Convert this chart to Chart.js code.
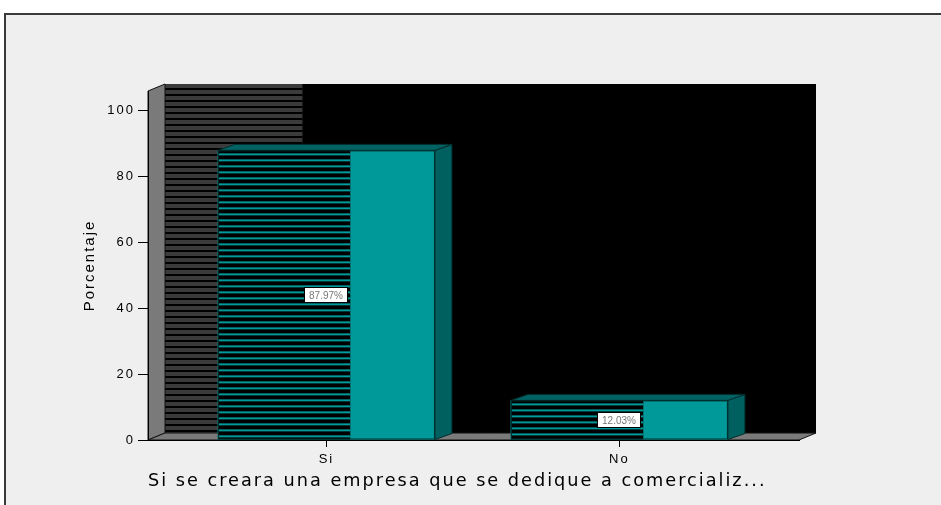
<!DOCTYPE html>
<html>
<head>
<meta charset="utf-8">
<script src="https://cdn.jsdelivr.net/npm/chart.js@4.4.1/dist/chart.umd.min.js"></script>
<style>
  html, body { margin: 0; padding: 0; background: #fff; overflow: hidden; }
  body { width: 941px; height: 505px; position: relative; }
  #frame {
    position: absolute; left: 4px; top: 13px; width: 1000px; height: 600px;
    background: #efefef; border: 2px solid #3a3a3a;
  }
  #chart { position: absolute; left: 0; top: 0; }
</style>
</head>
<body>
<div id="frame"></div>
<canvas id="chart" width="941" height="505"></canvas>
<script>
// --- DATA ---
const categories = ['Si', 'No'];
const percentages = [87.97, 12.03];
const yTicks = [0, 20, 40, 60, 80, 100];
const yTitle = 'Porcentaje';
const xTitle = 'Si se creara una empresa que se dedique a comercializ...';

// --- 3D LOOK ---
const DX = 17;
const DY = -7;
const TEAL = '#009999';

function stripes(ctx, x, y, w, h, base, line, offset, thick) {
  ctx.fillStyle = base;
  ctx.fillRect(x, y, w, h);
  ctx.fillStyle = line;
  for (let yy = y + offset; yy < y + h; yy += 6) {
    ctx.fillRect(x, yy, w, Math.min(thick, y + h - yy));
  }
}

function poly(ctx, pts, fill, stroke) {
  ctx.beginPath();
  ctx.moveTo(pts[0][0], pts[0][1]);
  pts.slice(1).forEach((p) => ctx.lineTo(p[0], p[1]));
  ctx.closePath();
  ctx.fillStyle = fill;
  ctx.fill();
  if (stroke) {
    ctx.strokeStyle = stroke;
    ctx.lineWidth = 1;
    ctx.stroke();
  }
}

const walls = {
  id: 'walls',
  beforeDraw(chart) {
    const { ctx, chartArea: a } = chart;
    const bars = chart.getDatasetMeta(0).data;
    ctx.save();
    // back wall
    ctx.fillStyle = '#000';
    ctx.fillRect(a.left + DX, a.top + DY, a.right - a.left, a.bottom - a.top);
    // striped shadow on the back wall
    const shadowEnd = bars.length ? bars[0].x - 24 : a.left + 150;
    stripes(ctx, a.left + DX, a.top + DY, shadowEnd - a.left - DX, a.bottom - a.top,
      '#3b3b3b', '#000', 4, 2);
    // left wall
    poly(ctx, [[a.left, a.bottom], [a.left, a.top], [a.left + DX, a.top + DY], [a.left + DX, a.bottom + DY]],
      '#7a7a7a', '#111');
    // floor
    poly(ctx, [[a.left, a.bottom], [a.left + DX, a.bottom + DY], [a.right + DX, a.bottom + DY], [a.right, a.bottom]],
      '#7a7a7a', '#111');
    ctx.restore();
    // wide bitmap-like spacing for axis texts
    ctx.letterSpacing = '2px';
  },
  beforeDatasetsDraw(chart) {
    chart.ctx.letterSpacing = '0px';
  },
  afterDatasetsDraw(chart) {
    const { ctx } = chart;
    const meta = chart.getDatasetMeta(0);
    ctx.save();
    meta.data.forEach((el, i) => {
      const { x, y, base, width } = el.getProps(['x', 'y', 'base', 'width'], true);
      const left = x - width / 2;
      const right = x + width / 2;
      const dy = -6;
      // side and top faces
      poly(ctx, [[right, y], [right + DX, y + dy], [right + DX, base + dy], [right, base]], '#005f5f', '#002e2e');
      poly(ctx, [[left, y], [left + DX, y + dy], [right + DX, y + dy], [right, y]], '#006262', '#002e2e');
      // striped part of the front face
      const split = left + width * 0.61;
      stripes(ctx, left, y, split - left, base - y, '#000', TEAL, 3, 2);
      ctx.strokeStyle = '#002e2e';
      ctx.lineWidth = 1;
      ctx.strokeRect(left + 0.5, y + 0.5, width - 1, base - y - 1);
      // value label
      const label = percentages[i].toFixed(2) + '%';
      ctx.font = '10px "Liberation Sans", Arial, sans-serif';
      const tw = ctx.measureText(label).width;
      const bw = Math.round(tw + 10);
      const bh = 16;
      const bx = Math.round(x - bw / 2);
      const by = Math.round((y + base) / 2 - bh / 2);
      ctx.fillStyle = '#fff';
      ctx.fillRect(bx, by, bw, bh);
      ctx.strokeStyle = '#000';
      ctx.strokeRect(bx + 0.5, by + 0.5, bw - 1, bh - 1);
      ctx.fillStyle = '#777';
      ctx.textAlign = 'center';
      ctx.textBaseline = 'middle';
      ctx.fillText(label, bx + bw / 2, by + bh / 2 + 1);
    });
    ctx.restore();
  },
};

const axisFont = { family: '"Liberation Sans", Arial, sans-serif', size: 13 };

new Chart(document.getElementById('chart'), {
  type: 'bar',
  data: {
    datasets: [{
      data: categories.map((c, i) => ({ x: i, y: percentages[i] })),
      backgroundColor: TEAL,
      borderWidth: 0,
      barThickness: 217,
    }],
  },
  options: {
    responsive: false,
    animation: false,
    layout: { padding: { left: 70, right: 142, top: 91, bottom: 0 } },
    plugins: {
      legend: { display: false },
      tooltip: { enabled: false },
    },
    scales: {
      x: {
        type: 'linear',
        offset: false,
        min: -0.609,
        max: 1.613,
        afterBuildTicks: (scale) => { scale.ticks = categories.map((c, i) => ({ value: i })); },
        afterFit: (scale) => { scale.height = 65; },
        ticks: {
          color: '#000',
          font: axisFont,
          padding: 5,
          callback: (v) => categories[v],
        },
        grid: { offset: false, drawOnChartArea: false, drawTicks: true, tickLength: 7, color: '#000' },
        border: { display: true, color: '#000', width: 1 },
        title: {
          display: true,
          text: xTitle,
          align: 'start',
          color: '#000',
          font: { family: '"DejaVu Sans", sans-serif', size: 17.7 },
          padding: { top: 0, bottom: 13 },
        },
      },
      y: {
        min: 0,
        max: 106,
        afterBuildTicks: (scale) => { scale.ticks = yTicks.map((v) => ({ value: v })); },
        afterFit: (scale) => { scale.width = 78; },
        ticks: { color: '#000', font: axisFont, padding: 3 },
        grid: { drawOnChartArea: false, drawTicks: true, tickLength: 10, color: '#000' },
        border: { display: true, color: '#000', width: 1 },
        title: {
          display: true,
          text: yTitle,
          color: '#000',
          font: { family: '"Liberation Sans", Arial, sans-serif', size: 15 },
          padding: { top: 11, bottom: 0 },
        },
      },
    },
  },
  plugins: [walls],
});
</script>
</body>
</html>
